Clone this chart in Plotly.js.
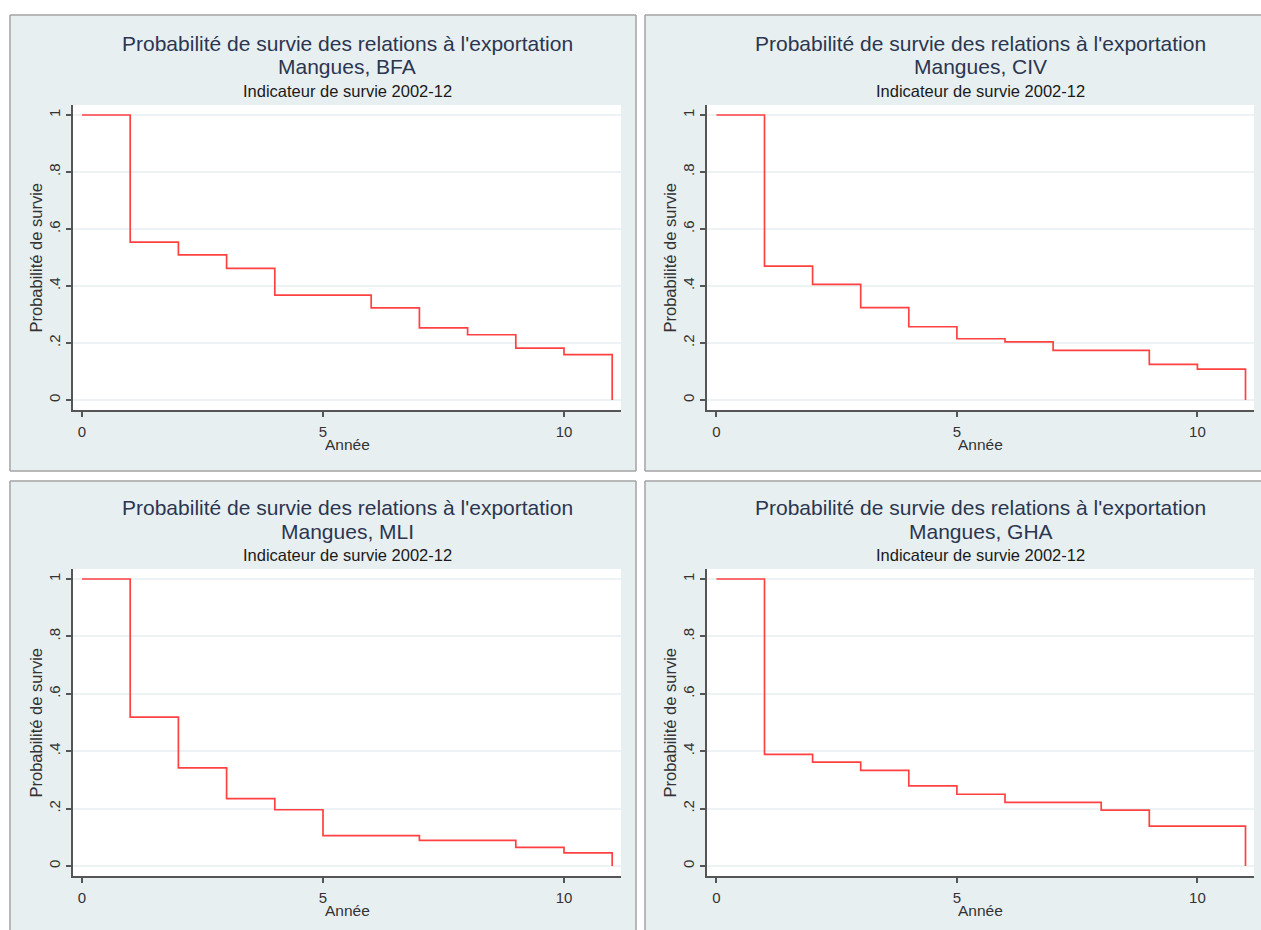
<!DOCTYPE html>
<html>
<head>
<meta charset="utf-8">
<script src="https://cdn.plot.ly/plotly-3.0.1.min.js"></script>
<style>html,body{margin:0;padding:0;background:#fff;overflow:hidden;}</style>
</head>
<body>
<div id="chart" style="width:1261px;height:930px;"></div>
<script>
// Data
const annees = [0, 1, 2, 3, 4, 5, 6, 7, 8, 9, 10, 11];
const survieBFA = [1, 0.554, 0.509, 0.462, 0.368, 0.368, 0.323, 0.253, 0.229, 0.182, 0.159, 0];
const survieCIV = [1, 0.470, 0.406, 0.324, 0.257, 0.215, 0.204, 0.174, 0.174, 0.125, 0.108, 0];
const survieMLI = [1, 0.519, 0.342, 0.235, 0.196, 0.106, 0.106, 0.089, 0.089, 0.065, 0.046, 0];
const survieGHA = [1, 0.389, 0.362, 0.333, 0.279, 0.250, 0.222, 0.222, 0.195, 0.139, 0.139, 0];
const pays = ["BFA", "CIV", "MLI", "GHA"];
const yTickVals = [0, 0.2, 0.4, 0.6, 0.8, 1];
const yTickText = ["0", ".2", ".4", ".6", ".8", "1"];
const xTickVals = [0, 5, 10];
const titre = "Probabilité de survie des relations à l'exportation";
const sousTitre = "Indicateur de survie 2002-12";
const titreY = "Probabilité de survie";
const titreX = "Année";

const W = 1261, H = 930;
const px = v => v / W;
const py = v => 1 - v / H;

const series = [survieBFA, survieCIV, survieMLI, survieGHA];
// panel geometry (pixels); open sides run off the picture
const panels = [
  {box: [10, 15, 636, 471], sides: ["t", "l", "r", "b"], plotX: [73, 621], plotY: [105, 410], x0: 82, unit: 48.2},
  {box: [645, 15, 1261, 471], sides: ["t", "l", "b"], plotX: [707, 1254], plotY: [105, 410], x0: 716.4, unit: 48.1},
  {box: [10, 481, 636, 930], sides: ["t", "l", "r"], plotX: [73, 621], plotY: [569, 876], x0: 82, unit: 48.2},
  {box: [645, 481, 1261, 930], sides: ["t", "l"], plotX: [707, 1254], plotY: [569, 876], x0: 716.4, unit: 48.1}
];

const traces = [];
const fontF = "Liberation Sans, Arial, sans-serif";
const layout = {
  width: W, height: H,
  margin: {l: 0, r: 0, t: 0, b: 0},
  paper_bgcolor: "#ffffff",
  plot_bgcolor: "#ffffff",
  showlegend: false,
  font: {family: fontF, size: 15, color: "#333"},
  shapes: [],
  annotations: []
};

const borderLine = {color: "#a3a3a3", width: 1.5};

panels.forEach((p, i) => {
  const n = i + 1;
  const xa = n === 1 ? "xaxis" : "xaxis" + n;
  const ya = n === 1 ? "yaxis" : "yaxis" + n;
  const xr = n === 1 ? "x" : "x" + n;
  const yr = n === 1 ? "y" : "y" + n;

  traces.push({
    x: annees, y: series[i], xaxis: xr, yaxis: yr,
    type: "scatter", mode: "lines",
    line: {shape: "hv", color: "rgb(255,65,65)", width: 1.7},
    hoverinfo: "x+y"
  });

  const top1 = p.plotY[0] + 10, bot0 = p.plotY[1] - 10;
  const yunit = bot0 - top1;
  const yRange = [-(p.plotY[1] - bot0) / yunit, 1 + (top1 - p.plotY[0]) / yunit];
  const xRange = [(p.plotX[0] - p.x0) / p.unit, (p.plotX[1] - p.x0) / p.unit];

  layout[xa] = {
    domain: [px(p.plotX[0]), px(p.plotX[1])],
    anchor: yr, range: xRange,
    tickvals: xTickVals, ticktext: xTickVals.map(String),
    ticks: "outside", ticklen: 5, tickwidth: 1.5, tickcolor: "#555",
    showline: true, linecolor: "#555", linewidth: 2,
    showgrid: false, zeroline: false,
    tickfont: {family: fontF, size: 15, color: "#333"},
    ticklabelstandoff: 2,
    fixedrange: true
  };
  layout[ya] = {
    domain: [py(p.plotY[1]), py(p.plotY[0])],
    anchor: xr, range: yRange,
    tickvals: yTickVals, ticktext: yTickText, tickangle: -90,
    ticks: "outside", ticklen: 5, tickwidth: 1.5, tickcolor: "#555",
    showline: true, linecolor: "#555", linewidth: 2,
    showgrid: true, gridcolor: "#edf3f5", gridwidth: 1.5,
    zeroline: false,
    tickfont: {family: fontF, size: 15, color: "#333"},
    ticklabelstandoff: 0,
    fixedrange: true
  };

  const [bx0, by0, bx1, by1] = p.box;
  layout.shapes.push({
    type: "rect", xref: "paper", yref: "paper", layer: "below",
    x0: px(bx0), x1: px(bx1), y0: py(by1), y1: py(by0),
    fillcolor: "#e8eff1", line: {width: 0}
  });
  const seg = {
    t: [bx0, by0, bx1, by0], b: [bx0, by1, bx1, by1],
    l: [bx0, by0, bx0, by1], r: [bx1, by0, bx1, by1]
  };
  p.sides.forEach(s => {
    const c = seg[s];
    layout.shapes.push({
      type: "line", xref: "paper", yref: "paper", layer: "below",
      x0: px(c[0]), y0: py(c[1]), x1: px(c[2]), y1: py(c[3]), line: borderLine
    });
  });
  layout.shapes.push({
    type: "rect", xref: "paper", yref: "paper", layer: "below",
    x0: px(p.plotX[0]), x1: px(p.plotX[1]), y0: py(p.plotY[1]), y1: py(p.plotY[0]),
    fillcolor: "#ffffff", line: {width: 0}
  });

  const cx = px((p.plotX[0] + p.plotX[1]) / 2);
  layout.annotations.push({
    xref: "paper", yref: "paper", x: cx, y: py(p.plotY[0] - 62),
    xanchor: "center", yanchor: "middle", showarrow: false,
    text: titre,
    font: {family: fontF, size: 21, color: "#2b3650"}
  });
  layout.annotations.push({
    xref: "paper", yref: "paper", x: cx, y: py(p.plotY[0] - 38),
    xanchor: "center", yanchor: "middle", showarrow: false,
    text: "Mangues, " + pays[i],
    font: {family: fontF, size: 21, color: "#2b3650"}
  });
  layout.annotations.push({
    xref: "paper", yref: "paper", x: cx, y: py(p.plotY[0] - 14),
    xanchor: "center", yanchor: "middle", showarrow: false,
    text: sousTitre,
    font: {family: fontF, size: 16.5, color: "#1a1a1a"}
  });
  layout.annotations.push({
    xref: "paper", yref: "paper", x: px(p.plotX[0] - 38), y: py((p.plotY[0] + p.plotY[1]) / 2),
    xanchor: "center", yanchor: "middle", showarrow: false, textangle: -90,
    text: titreY,
    font: {family: fontF, size: 16.5, color: "#333"}
  });
  layout.annotations.push({
    xref: "paper", yref: "paper", x: cx, y: py(p.plotY[1] + 34),
    xanchor: "center", yanchor: "middle", showarrow: false,
    text: titreX,
    font: {family: fontF, size: 15.5, color: "#333"}
  });
});

Plotly.newPlot("chart", traces, layout, {displayModeBar: false});
</script>
</body>
</html>
